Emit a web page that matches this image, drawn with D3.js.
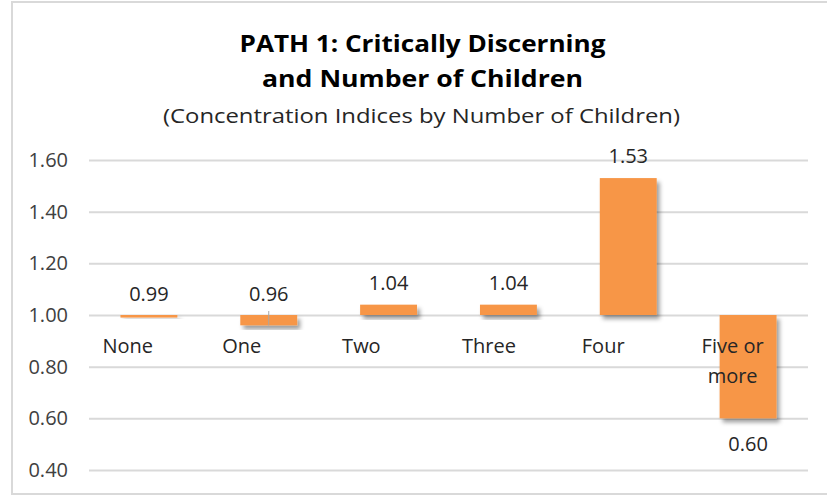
<!DOCTYPE html>
<html>
<head>
<meta charset="utf-8">
<script src="https://cdn.jsdelivr.net/npm/d3@7"></script>
<style>
  html, body { margin: 0; padding: 0; background: #ffffff; }
  svg { display: block; font-family: "Open Sans", "Noto Sans", sans-serif; }
</style>
</head>
<body>
<svg id="chart" width="827" height="497"></svg>
<script>
// ---- data ----
const categories = ["None", "One", "Two", "Three", "Four", "Five or more"];
const values = [0.99, 0.96, 1.04, 1.04, 1.53, 0.60];
const yTicks = [0.40, 0.60, 0.80, 1.00, 1.20, 1.40, 1.60];
const titleLines = ["PATH 1: Critically Discerning", "and Number of Children"];
const subtitle = "(Concentration Indices by Number of Children)";
const baselineValue = 1.0;

// ---- drawing ----
const svg = d3.select("#chart");

// outer frame
svg.append("rect")
  .attr("x", 12).attr("y", 2).attr("width", 830).attr("height", 492)
  .attr("fill", "#ffffff").attr("stroke", "#d9d9d9").attr("stroke-width", 2);

const plot = { left: 89, right: 808, top: 160, bottom: 470 };

const y = d3.scaleLinear().domain([0.4, 1.6]).range([plot.bottom, plot.top]);
const x = d3.scaleBand().domain(categories)
  .range([plot.left, plot.right]).paddingInner(0.525).paddingOuter(0.2625);

// drop shadow filter
const defs = svg.append("defs");
const f = defs.append("filter").attr("id", "shadow")
  .attr("x", "-20%").attr("y", "-20%").attr("width", "150%").attr("height", "160%");
f.append("feDropShadow").attr("dx", 3).attr("dy", 4).attr("stdDeviation", 2.2)
  .attr("flood-color", "#000").attr("flood-opacity", 0.38);

// gridlines + y axis labels via d3 axis
const yAxis = d3.axisLeft(y).tickValues(yTicks).tickFormat(d3.format(".2f"))
  .tickSize(-(plot.right - plot.left)).tickPadding(21);
const gy = svg.append("g").attr("transform", `translate(${plot.left},0)`).call(yAxis);
gy.select(".domain").remove();
gy.selectAll(".tick line").attr("stroke", "#d9d9d9").attr("stroke-width", 2);
gy.selectAll(".tick text").attr("fill", "#404040").style("font-size", "20px")
  .style("font-family", '"Open Sans", sans-serif');

// bars
svg.append("g").selectAll("rect").data(values).join("rect")
  .attr("x", (d, i) => x(categories[i]))
  .attr("width", x.bandwidth())
  .attr("y", d => Math.min(y(d), y(baselineValue)))
  .attr("height", d => Math.max(1.5, Math.abs(y(d) - y(baselineValue))))
  .attr("fill", "#f79646")
  .attr("filter", "url(#shadow)");

// small leader line on the "One" bar
const oneIdx = categories.indexOf("One");
svg.append("line")
  .attr("x1", x("One") + x.bandwidth() / 2).attr("x2", x("One") + x.bandwidth() / 2)
  .attr("y1", y(baselineValue) - 4).attr("y2", y(values[oneIdx]))
  .attr("stroke", "#a6a6a6").attr("stroke-width", 1);

// value labels
svg.append("g").selectAll("text").data(values).join("text")
  .attr("x", (d, i) => x(categories[i]) + x.bandwidth() / 2)
  .attr("y", d => {
    if (d < baselineValue && baselineValue - d < 0.05) return y(baselineValue) - 14;
    if (d >= baselineValue) return y(d) - 15;
    return y(d) + 33;
  })
  .attr("text-anchor", "middle")
  .attr("fill", "#262626")
  .style("font-size", "20px")
  .text(d => d3.format(".2f")(d));

// category labels (left aligned block, lines centered within block)
const catG = svg.append("g");
categories.forEach((c, i) => {
  const words = c.split(" ");
  const lines = words.length > 2 ? [words.slice(0, 2).join(" "), words.slice(2).join(" ")] : [c];
  const left = x(c) - 18;
  const t = catG.append("text").attr("fill", "#262626").style("font-size", "20px")
    .attr("text-anchor", "middle");
  const spans = lines.map((ln, k) => t.append("tspan").attr("y", 353 + k * 30).text(ln));
  const maxW = d3.max(spans, s => s.node().getComputedTextLength());
  spans.forEach(s => s.attr("x", left + maxW / 2));
});

// titles
const cx = 422.5;
svg.append("text").attr("x", cx).attr("y", 52).attr("text-anchor", "middle")
  .attr("fill", "#000").style("font-size", "24px").style("font-weight", "bold")
  .attr("textLength", 366).attr("lengthAdjust", "spacingAndGlyphs")
  .text(titleLines[0]);
svg.append("text").attr("x", cx).attr("y", 87).attr("text-anchor", "middle")
  .attr("fill", "#000").style("font-size", "24px").style("font-weight", "bold")
  .attr("textLength", 321).attr("lengthAdjust", "spacingAndGlyphs")
  .text(titleLines[1]);
svg.append("text").attr("x", 421.5).attr("y", 123).attr("text-anchor", "middle")
  .attr("fill", "#262626").style("font-size", "20px")
  .attr("textLength", 517).attr("lengthAdjust", "spacingAndGlyphs")
  .text(subtitle);
</script>
</body>
</html>
